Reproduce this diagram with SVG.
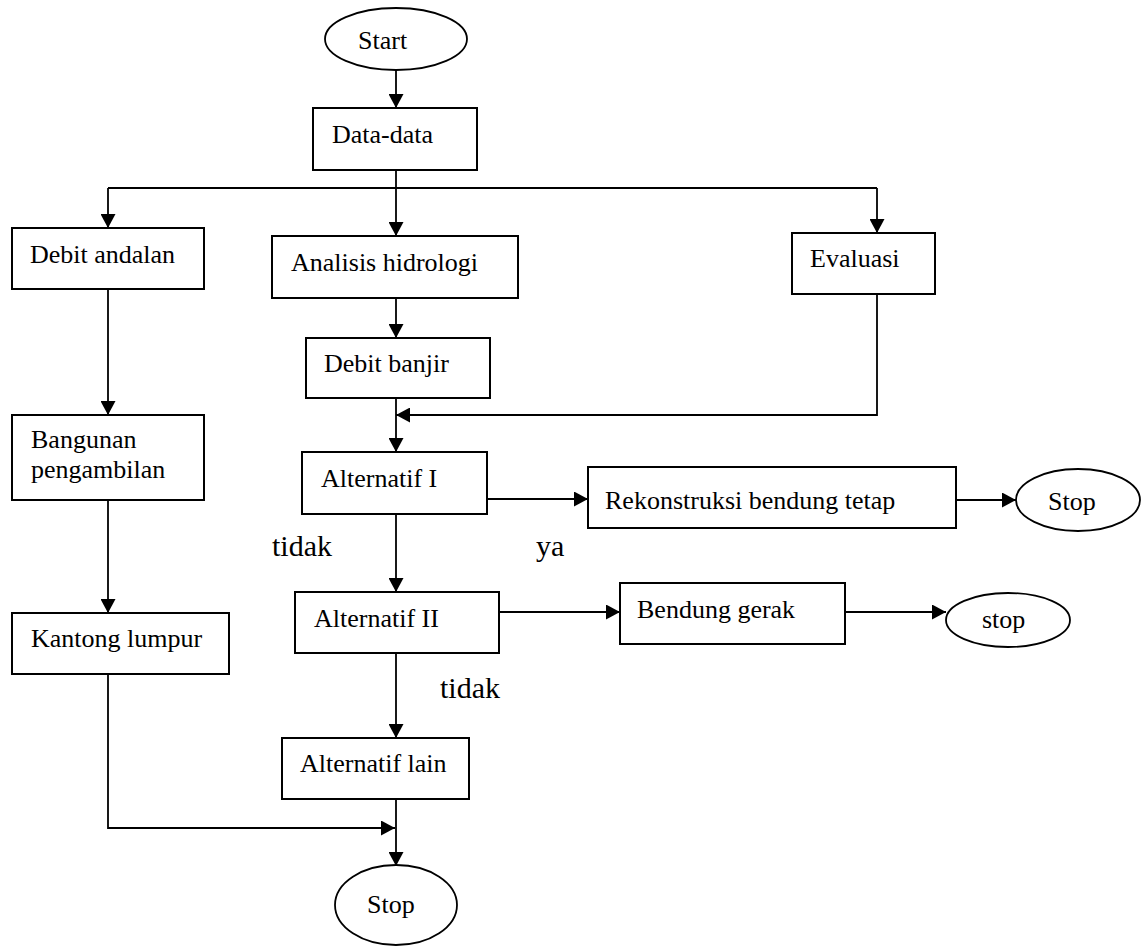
<svg xmlns="http://www.w3.org/2000/svg" width="1142" height="947" viewBox="0 0 1142 947">
  <style>
    .box { fill: #ffffff; stroke: #000000; stroke-width: 2; }
    .term { fill: #ffffff; stroke: #000000; stroke-width: 1.8; }
    .t { font-family: "Liberation Serif", "Times New Roman", serif; font-size: 26px; fill: #000000; }
    .lbl { font-family: "Liberation Serif", "Times New Roman", serif; font-size: 30px; fill: #000000; }
    .ln { fill: none; stroke: #000000; stroke-width: 1.8; }
    .arr { marker-end: url(#head); }
  </style>
  <defs>
    <marker id="head" markerUnits="userSpaceOnUse" markerWidth="15" markerHeight="15" refX="14" refY="7.5" orient="auto">
      <path d="M0,0 L14,7.5 L0,15 z" fill="#000000"/>
    </marker>
  </defs>
  <rect width="1142" height="947" fill="#ffffff"/>

  <!-- connectors -->
  <g id="connectors">
    <line class="ln arr" x1="396" y1="70" x2="396" y2="108"/>
    <line class="ln arr" x1="396" y1="166" x2="396" y2="236"/>
    <line class="ln" x1="108" y1="188" x2="877" y2="188"/>
    <line class="ln arr" x1="108" y1="188" x2="108" y2="228"/>
    <line class="ln arr" x1="877" y1="188" x2="877" y2="233"/>
    <line class="ln arr" x1="108" y1="289" x2="108" y2="415"/>
    <line class="ln arr" x1="108" y1="500" x2="108" y2="613"/>
    <line class="ln arr" x1="396" y1="298" x2="396" y2="338"/>
    <line class="ln arr" x1="396" y1="398" x2="396" y2="452"/>
    <polyline class="ln arr" points="877,294 877,415 396,415"/>
    <line class="ln arr" x1="487" y1="499" x2="588" y2="499"/>
    <line class="ln arr" x1="956" y1="500" x2="1016" y2="500"/>
    <line class="ln arr" x1="396" y1="514" x2="396" y2="592"/>
    <line class="ln arr" x1="499" y1="612" x2="620" y2="612"/>
    <line class="ln arr" x1="845" y1="612" x2="946" y2="612"/>
    <line class="ln arr" x1="396" y1="653" x2="396" y2="738"/>
    <line class="ln arr" x1="396" y1="799" x2="396" y2="866"/>
    <polyline class="ln arr" points="108,674 108,828 395,828"/>
    <text class="lbl" x="272" y="556">tidak</text>
    <text class="lbl" x="536" y="556">ya</text>
    <text class="lbl" x="440" y="698">tidak</text>
  </g>

  <g id="start">
    <ellipse class="term" cx="396" cy="39" rx="71" ry="31"/>
    <text class="t" x="358" y="49">Start</text>
  </g>
  <g id="data">
    <rect class="box" x="313" y="108" width="164" height="62"/>
    <text class="t" x="332" y="143">Data-data</text>
  </g>
  <g id="debit-andalan">
    <rect class="box" x="12" y="228" width="192" height="61"/>
    <text class="t" x="30" y="263">Debit andalan</text>
  </g>
  <g id="analisis-hidrologi">
    <rect class="box" x="272" y="236" width="246" height="62"/>
    <text class="t" x="291" y="271">Analisis hidrologi</text>
  </g>
  <g id="evaluasi">
    <rect class="box" x="792" y="233" width="143" height="61"/>
    <text class="t" x="810" y="267">Evaluasi</text>
  </g>
  <g id="debit-banjir">
    <rect class="box" x="306" y="338" width="184" height="60"/>
    <text class="t" x="324" y="372">Debit banjir</text>
  </g>
  <g id="bangunan-pengambilan">
    <rect class="box" x="12" y="415" width="192" height="85"/>
    <text class="t" x="31" y="448">Bangunan</text>
    <text class="t" x="31" y="478">pengambilan</text>
  </g>
  <g id="alternatif-1">
    <rect class="box" x="302" y="452" width="185" height="62"/>
    <text class="t" x="321" y="487">Alternatif I</text>
  </g>
  <g id="rekonstruksi">
    <rect class="box" x="588" y="467" width="368" height="61"/>
    <text class="t" x="605" y="509">Rekonstruksi bendung tetap</text>
  </g>
  <g id="stop-1">
    <ellipse class="term" cx="1078" cy="500" rx="62" ry="31"/>
    <text class="t" x="1048" y="510">Stop</text>
  </g>
  <g id="alternatif-2">
    <rect class="box" x="295" y="592" width="204" height="61"/>
    <text class="t" x="314" y="627">Alternatif II</text>
  </g>
  <g id="bendung-gerak">
    <rect class="box" x="620" y="583" width="225" height="61"/>
    <text class="t" x="637" y="618">Bendung gerak</text>
  </g>
  <g id="stop-2">
    <ellipse class="term" cx="1008" cy="620" rx="62" ry="27"/>
    <text class="t" x="982" y="628">stop</text>
  </g>
  <g id="kantong-lumpur">
    <rect class="box" x="12" y="613" width="217" height="61"/>
    <text class="t" x="31" y="647">Kantong lumpur</text>
  </g>
  <g id="alternatif-lain">
    <rect class="box" x="282" y="738" width="187" height="61"/>
    <text class="t" x="300" y="772">Alternatif lain</text>
  </g>
  <g id="stop-3">
    <ellipse class="term" cx="396" cy="905" rx="61" ry="40"/>
    <text class="t" x="367" y="913">Stop</text>
  </g>
</svg>
